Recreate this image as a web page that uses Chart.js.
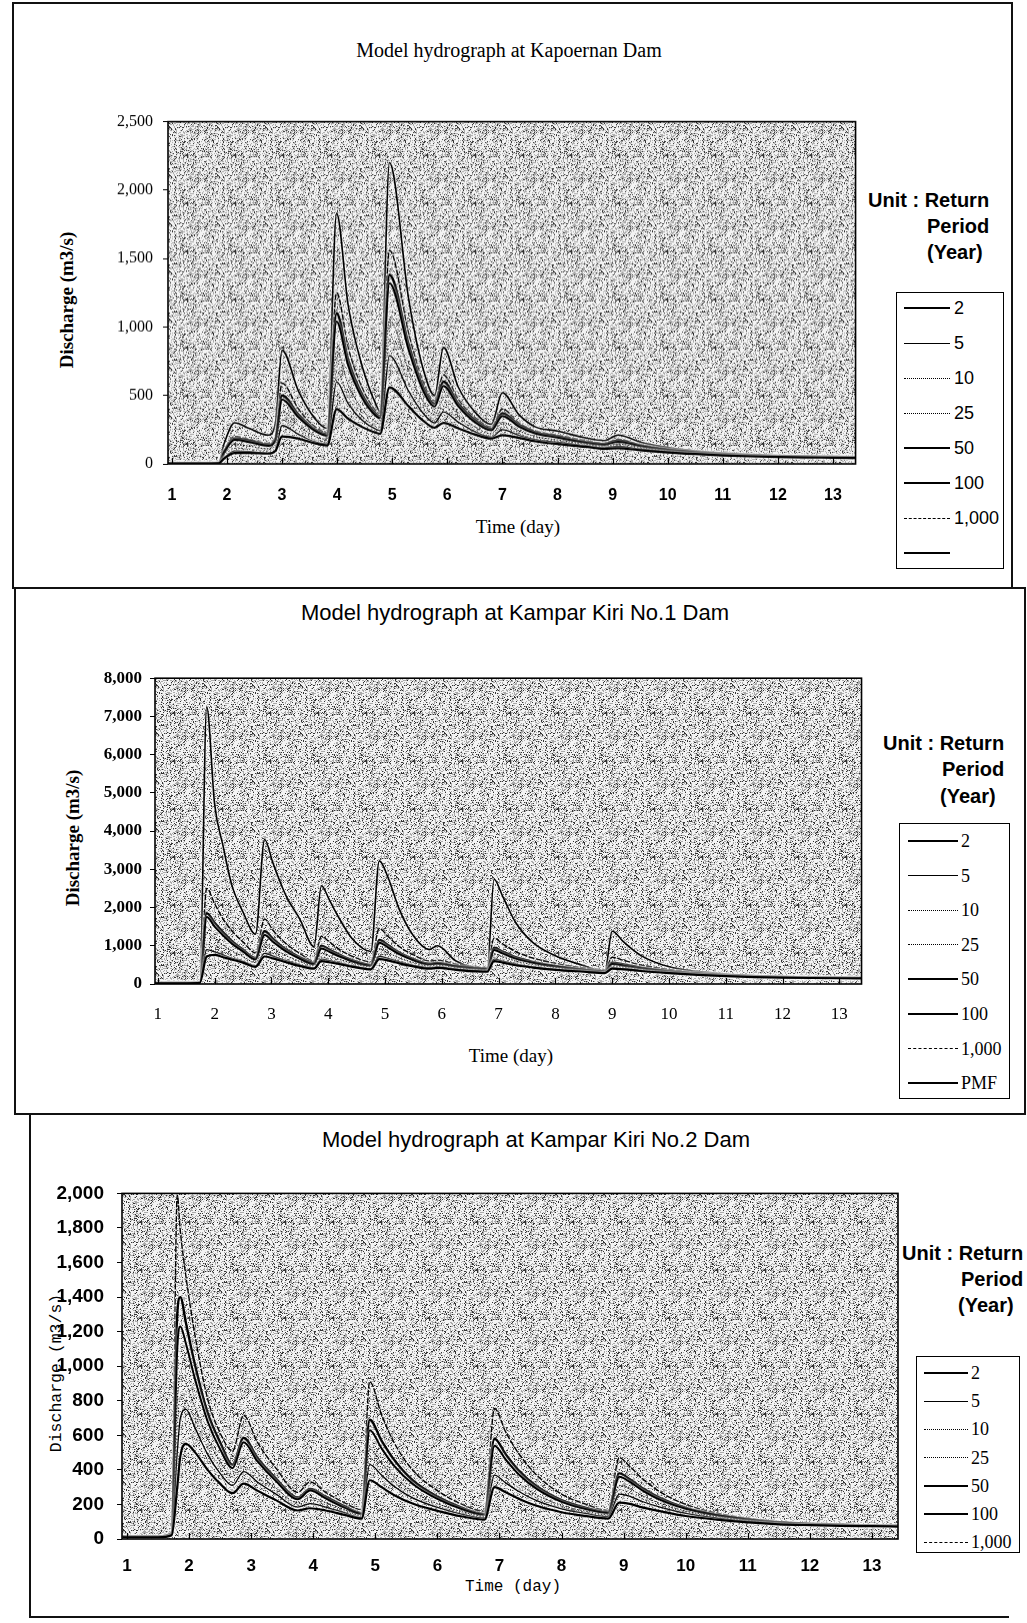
<!DOCTYPE html>
<html><head><meta charset="utf-8">
<script src="https://cdn.jsdelivr.net/npm/chart.js@4/dist/chart.umd.min.js"></script>
<style>
html,body{margin:0;padding:0;background:#fff;}
body{width:1027px;height:1623px;position:relative;overflow:hidden;color:#000;font-family:'Liberation Sans',Arial,sans-serif;}
.hl{position:absolute;background:#111;}
.t{position:absolute;white-space:nowrap;line-height:1;transform:translate(-50%,-50%);}
.tl{position:absolute;white-space:nowrap;line-height:1;transform:translateY(-50%);}
.vt{position:absolute;white-space:nowrap;line-height:1;transform:translate(-50%,-50%) rotate(-90deg);}
.box{position:absolute;border:1.5px solid #000;box-sizing:border-box;}
.cv{position:absolute;}
.serif{font-family:'Liberation Serif','Times New Roman',serif;}
.sans{font-family:'Liberation Sans',Arial,sans-serif;}
.mono{font-family:'Liberation Mono','Courier New',monospace;}
.unit{font-family:'Liberation Sans',Arial,sans-serif;font-weight:bold;font-size:20px;}
</style></head><body>

<!-- panel frames -->
<div class="hl" style="left:12px;top:2px;width:1001px;height:2px"></div>
<div class="hl" style="left:12px;top:2px;width:2px;height:587px"></div>
<div class="hl" style="left:1011px;top:2px;width:2px;height:587px"></div>
<div class="hl" style="left:12px;top:587px;width:1014px;height:2px"></div>
<div class="hl" style="left:14px;top:588px;width:2px;height:527px"></div>
<div class="hl" style="left:1024px;top:588px;width:2px;height:527px"></div>
<div class="hl" style="left:14px;top:1113px;width:1012px;height:2px"></div>
<div class="hl" style="left:29px;top:1114px;width:2px;height:504px"></div>
<div class="hl" style="left:29px;top:1616px;width:980px;height:2px"></div>

<!-- chart 1 texts -->
<div class="t serif" style="left:509px;top:50px;font-size:20px">Model hydrograph at Kapoernan Dam</div>
<div class="vt serif" style="left:66px;top:300px;font-size:19px;font-weight:bold">Discharge (m3/s)</div>
<div class="t serif" style="left:518px;top:526px;font-size:19px">Time (day)</div>
<div class="tl unit" style="left:868px;top:200px">Unit : Return</div>
<div class="tl unit" style="left:927px;top:226px">Period</div>
<div class="tl unit" style="left:927px;top:252px">(Year)</div>
<div class="box" style="left:896px;top:292px;width:108px;height:277px"></div>

<!-- chart 2 texts -->
<div class="t sans" style="left:515px;top:613px;font-size:22px">Model hydrograph at Kampar Kiri No.1 Dam</div>
<div class="vt serif" style="left:72px;top:838px;font-size:19px;font-weight:bold">Discharge (m3/s)</div>
<div class="t serif" style="left:511px;top:1055px;font-size:19px">Time (day)</div>
<div class="tl unit" style="left:883px;top:743px">Unit : Return</div>
<div class="tl unit" style="left:942px;top:769px">Period</div>
<div class="tl unit" style="left:940px;top:796px">(Year)</div>
<div class="box" style="left:899px;top:823px;width:111px;height:276px"></div>

<!-- chart 3 texts -->
<div class="t sans" style="left:536px;top:1140px;font-size:22px">Model hydrograph at Kampar Kiri No.2 Dam</div>
<div class="vt mono" style="left:57px;top:1373px;font-size:16.5px">Discharge (m3/s)</div>
<div class="t mono" style="left:513px;top:1587px;font-size:16px">Time (day)</div>
<div class="tl unit" style="left:902px;top:1253px">Unit : Return</div>
<div class="tl unit" style="left:961px;top:1279px">Period</div>
<div class="tl unit" style="left:958px;top:1305px">(Year)</div>
<div class="box" style="left:916px;top:1356px;width:104px;height:197px"></div>

<canvas id="c1" class="cv"></canvas>
<canvas id="c2" class="cv"></canvas>
<canvas id="c3" class="cv"></canvas>

<script>
// ---------------- DATA ----------------
const xTicks = [1,2,3,4,5,6,7,8,9,10,11,12,13];

// Kapoernan Dam
const time1 = [0.93,1.5,1.85,1.95,2.14,2.4,2.75,2.88,3.0,3.3,3.6,3.82,3.99,4.2,4.45,4.72,4.78,4.95,5.3,5.55,5.77,5.93,6.2,6.5,6.8,7.0,7.3,7.6,8.0,8.5,8.85,9.1,9.5,10.0,10.5,11.0,11.5,12.0,12.5,13.0,13.42];
const k1_2    = [3,3,5,40,80,80,75,95,200,185,150,135,400,330,270,225,220,560,420,320,265,300,260,215,185,210,190,165,145,125,110,115,100,84,72,62,55,50,47,45,43];
const k1_5    = [3,3,5,45,95,90,78,95,280,215,160,145,600,440,320,250,245,790,530,375,300,380,305,235,195,250,208,177,158,132,118,128,108,88,74,64,57,52,49,46,44];
const k1_10   = [4,4,6,55,115,108,92,115,320,240,175,160,680,490,350,270,260,900,590,410,320,420,330,250,205,270,220,185,165,138,124,135,114,92,77,66,58,53,50,47,45];
const k1_25   = [4,4,6,70,140,130,110,140,380,280,200,180,820,580,400,300,290,1050,680,460,360,470,360,270,220,300,240,200,175,145,130,145,120,96,80,68,60,55,51,48,46];
const k1_50   = [5,5,8,85,175,160,132,170,470,340,240,205,1040,720,485,345,335,1320,830,545,420,570,420,305,245,350,272,222,192,155,140,162,130,102,85,71,63,57,53,50,48];
const k1_100  = [5,5,8,90,185,170,140,180,500,360,250,215,1100,760,510,360,350,1380,870,570,440,600,440,320,255,370,285,230,200,160,145,170,135,105,87,73,64,58,54,51,49];
const k1_1000 = [5,5,8,100,200,180,150,200,590,400,270,230,1250,850,560,380,370,1560,950,610,460,650,470,340,270,400,300,240,210,170,150,180,140,110,90,75,66,60,55,52,50];
const k1_pmf  = [5,5,10,150,300,260,210,300,830,530,330,260,1830,1160,720,420,380,2200,1200,710,500,850,560,380,290,520,360,270,240,190,170,210,160,120,95,80,70,62,58,55,52];
const yTicks1 = [0,500,1000,1500,2000,2500];
const legend1 = ['2','5','10','25','50','100','1,000',''];

// Kampar Kiri No.1 Dam
const time2 = [0.94,1.5,1.74,1.86,2.0,2.15,2.3,2.5,2.72,2.88,3.03,3.26,3.5,3.75,3.88,4.02,4.2,4.43,4.75,4.9,5.05,5.25,5.5,5.78,5.92,6.25,6.8,6.92,7.07,7.3,7.6,8.0,8.5,8.87,9.0,9.2,9.5,10.0,10.5,11.0,11.5,12.0,12.5,13.0,13.4];
const k2_2    = [20,20,30,720,760,700,640,560,450,720,670,570,470,400,600,570,520,450,380,650,620,540,460,400,420,370,320,600,560,490,430,370,320,285,400,385,340,285,240,205,182,167,157,150,146];
const k2_5    = [20,20,32,900,840,760,680,590,480,800,730,610,500,420,650,610,550,475,400,720,670,580,490,425,445,390,340,650,600,520,450,385,330,295,420,400,350,292,246,210,186,170,160,152,148];
const k2_10   = [25,25,35,1050,950,840,730,620,500,880,790,650,530,440,700,650,580,500,420,780,720,610,510,440,460,405,350,700,640,550,470,400,340,305,440,415,360,300,252,215,190,174,162,155,150];
const k2_25   = [25,25,38,1350,1200,1020,870,720,560,1050,920,740,590,480,800,730,640,540,450,900,820,680,560,470,490,430,370,780,710,600,510,430,355,320,470,440,380,315,262,222,195,178,166,158,154];
const k2_50   = [30,30,40,1750,1500,1270,1060,850,640,1280,1100,850,660,520,930,840,720,590,480,1080,960,780,620,510,530,455,390,890,800,665,555,455,370,330,520,480,410,330,272,230,200,182,170,162,158];
const k2_100  = [30,30,42,1850,1600,1350,1130,900,680,1380,1180,900,700,550,1000,900,760,620,500,1150,1020,820,650,530,550,470,400,950,850,700,580,470,380,340,560,510,430,340,280,235,205,185,172,165,160];
const k2_1000 = [30,30,45,2500,2100,1700,1400,1100,820,1700,1400,1050,800,600,1250,1100,900,720,580,1450,1250,980,760,600,620,520,430,1200,1050,850,680,540,420,370,700,620,500,380,300,250,215,195,180,170,165];
const k2_pmf  = [30,30,50,7250,4700,3600,2600,1880,1300,3780,3150,2300,1700,980,2570,2200,1700,1170,850,3220,2800,1960,1260,900,1000,600,380,2740,2300,1610,1090,740,480,330,1380,1100,750,450,330,260,220,200,185,175,170];
const yTicks2 = [0,1000,2000,3000,4000,5000,6000,7000,8000];
const legend2 = ['2','5','10','25','50','100','1,000','PMF'];

// Kampar Kiri No.2 Dam
const time3 = [0.93,1.5,1.72,1.81,1.86,1.95,2.1,2.3,2.5,2.7,2.88,3.1,3.4,3.75,3.95,4.2,4.5,4.78,4.91,5.1,5.3,5.6,6.0,6.4,6.76,6.92,7.1,7.3,7.6,8.0,8.4,8.75,8.93,9.1,9.3,9.6,10.0,10.5,11.0,11.5,12.0,12.5,13.0,13.43];
const k3_2    = [10,10,22,300,480,550,500,400,320,265,320,280,225,165,178,165,140,118,340,300,255,205,163,130,112,300,270,235,192,155,132,118,210,203,183,160,133,112,96,85,80,76,74,72];
const k3_5    = [12,12,25,500,700,750,640,490,380,310,390,330,260,185,205,185,152,125,430,370,305,238,183,143,122,370,325,278,222,175,147,130,260,247,217,183,148,121,102,88,82,78,75,73];
const k3_10   = [12,12,28,650,820,800,690,530,410,330,420,355,275,198,225,198,162,130,470,400,330,255,193,150,127,410,355,300,238,185,153,135,285,268,233,195,156,126,105,90,83,79,76,74];
const k3_25   = [12,12,30,800,950,900,760,580,450,360,470,390,295,210,240,210,170,135,520,440,360,275,205,158,132,450,390,325,255,195,160,140,310,290,250,205,162,130,108,92,85,80,77,75];
const k3_50   = [15,15,33,1100,1230,1130,920,680,520,410,560,450,335,230,280,235,182,145,630,525,425,320,232,172,140,540,460,378,290,215,172,150,360,330,282,225,175,137,113,95,87,82,78,76];
const k3_100  = [15,15,35,1300,1400,1250,1000,730,560,430,585,470,350,240,290,245,190,150,690,570,460,340,245,180,145,580,490,400,305,225,180,155,380,345,295,235,180,140,115,97,88,83,79,77];
const k3_1000 = [15,15,40,1990,1780,1520,1170,810,614,510,715,560,410,270,330,270,210,170,910,720,560,400,280,200,160,755,620,500,370,260,200,165,470,420,350,270,200,150,120,100,90,85,80,78];
const yTicks3 = [0,200,400,600,800,1000,1200,1400,1600,1800,2000];
const legend3 = ['2','5','10','25','50','100','1,000'];

// ---------------- STYLES ----------------
const lineStyles = {
  '2':   {w:2.2, dash:[],      css:'solid'},
  '5':   {w:1.3, dash:[],      css:'solid'},
  '10':  {w:1,   dash:[1,2.5], css:'dotted'},
  '25':  {w:1,   dash:[1.5,1.5], css:'dotted'},
  '50':  {w:2.0, dash:[],      css:'solid'},
  '100': {w:2.4, dash:[],      css:'solid'},
  '1000':{w:1.4, dash:[6,1.5], css:'dashed'},
  'pmf': {w:1.6, dash:[],      css:'solid'}
};
const keys8 = ['2','5','10','25','50','100','1000','pmf'];

// stipple texture (deterministic hash, not data)
function hash(x,y){
  let n = Math.imul(x,374761393) + Math.imul(y,668265263);
  n = Math.imul(n ^ (n >>> 13), 1274126177);
  n = n ^ (n >>> 16);
  return (n >>> 0) / 4294967296;
}
function makePattern(ctx){
  const S = 48;
  const c = document.createElement('canvas'); c.width = S; c.height = S;
  const g = c.getContext('2d');
  g.fillStyle = '#f3f3f3'; g.fillRect(0,0,S,S);
  for(let y=0;y<S;y++) for(let x=0;x<S;x++){
    const v = hash(x,y);
    if(v < 0.13){ g.fillStyle = '#333'; g.fillRect(x,y,1,1); }
    else if(v < 0.39){ g.fillStyle = '#aaa'; g.fillRect(x,y,1,1); }
  }
  return ctx.createPattern(c,'repeat');
}

const framePlugin = {
  id:'frame',
  beforeDatasetsDraw(chart){
    const {ctx, chartArea:a} = chart;
    if(!chart.$pat) chart.$pat = makePattern(ctx);
    ctx.save(); ctx.fillStyle = chart.$pat; ctx.fillRect(a.left,a.top,a.width,a.height); ctx.restore();
  },
  afterDatasetsDraw(chart){
    const {ctx, chartArea:a} = chart;
    const xs = chart.scales.x;
    ctx.save();
    ctx.strokeStyle = '#000'; ctx.lineWidth = 1.6;
    ctx.strokeRect(a.left, a.top, a.width, a.height);
    ctx.lineWidth = 1.2;
    xs.ticks.forEach(t=>{
      const px = Math.round(xs.getPixelForValue(t.value)) + 0.5;
      ctx.beginPath(); ctx.moveTo(px, a.bottom); ctx.lineTo(px, a.bottom - 6); ctx.stroke();
    });
    ctx.restore();
  }
};
const haloPlugin = {
  id:'halo',
  beforeDatasetDraw(chart){ const c = chart.ctx; c.save(); c.shadowColor = 'rgba(255,255,255,0.95)'; c.shadowBlur = 3; },
  afterDatasetDraw(chart){ chart.ctx.restore(); }
};

function buildConfig(lay, times, series, keys, yTicks){
  const datasets = series.map((s,i)=>{
    const st = lineStyles[keys[i]];
    return {
      data: times.map((x,j)=>({x:x, y:s[j]})),
      borderColor:'#000', borderWidth: st.w, borderDash: st.dash,
      pointRadius:0, fill:false, cubicInterpolationMode:'monotone'
    };
  });
  return {
    type:'line',
    data:{datasets},
    options:{
      responsive:false, animation:false, devicePixelRatio:1, locale:'en-US',
      layout:{padding:{top:4,right:4,left:0,bottom:0}},
      plugins:{legend:{display:false}, tooltip:{enabled:false}, title:{display:false}},
      scales:{
        x:{type:'linear', min:lay.xmin, max:lay.xmax,
           afterBuildTicks:s=>{ s.ticks = xTicks.map(v=>({value:v})); },
           afterFit:s=>{ s.height = lay.xh; },
           grid:{display:false, drawTicks:false}, border:{display:false},
           ticks:{padding:lay.xpad, color:'#000', font:lay.xfont, autoSkip:false, maxRotation:0, callback:v=>String(v)}},
        y:{type:'linear', min:0, max:yTicks[yTicks.length-1],
           afterBuildTicks:s=>{ s.ticks = yTicks.map(v=>({value:v})); },
           afterFit:s=>{ s.width = lay.yw; },
           grid:{drawOnChartArea:false, drawTicks:true, tickLength:5, color:'#000', lineWidth:1}, border:{display:false},
           ticks:{padding:lay.ypad, color:'#000', font:lay.yfont, autoSkip:false, callback:v=>Number(v).toLocaleString('en-US')}}
      }
    },
    plugins:[framePlugin, haloPlugin]
  };
}

function sizeCanvas(cv, w, h, left, top){
  cv.width = w; cv.height = h;
  cv.style.width = w + 'px'; cv.style.height = h + 'px';
  cv.style.left = left + 'px'; cv.style.top = top + 'px';
}

function makeChart(id, lay, times, series, keys, yTicks){
  const cv = document.getElementById(id);
  // first pass: measure library paddings around the plot area
  let w = lay.R - lay.L + lay.yw + 40, h = lay.B - lay.T + lay.xh + 40;
  sizeCanvas(cv, w, h, 0, 0);
  let ch = new Chart(cv, buildConfig(lay, times, series, keys, yTicks));
  const a = ch.chartArea;
  const padL = a.left, padT = a.top, padR = w - a.right, padB = h - a.bottom;
  ch.destroy();
  // second pass: place plot area exactly
  w = padL + (lay.R - lay.L) + padR;
  h = padT + (lay.B - lay.T) + padB;
  sizeCanvas(cv, w, h, lay.L - padL, lay.T - padT);
  return new Chart(cv, buildConfig(lay, times, series, keys, yTicks));
}

function buildLegend(labels, keys, lay){
  labels.forEach((lab,i)=>{
    const y = lay.y0 + i*lay.dy;
    const st = lineStyles[keys[i]];
    const bw = Math.max(1, Math.round(st.w));
    const ln = document.createElement('div');
    ln.style.cssText = 'position:absolute;left:'+lay.x1+'px;top:'+(y-bw/2)+'px;width:'+lay.len+'px;height:0;border-top:'+bw+'px '+st.css+' #000;';
    document.body.appendChild(ln);
    if(lab){
      const t = document.createElement('div');
      t.className = 'tl ' + lay.cls;
      t.style.left = lay.tx + 'px'; t.style.top = y + 'px'; t.style.fontSize = lay.fs + 'px';
      t.textContent = lab;
      document.body.appendChild(t);
    }
  });
}

makeChart('c1', {L:168,T:122,R:857,B:464,yw:80,xh:50,xmin:0.93,xmax:13.41,ypad:10,xpad:22,
  yfont:{family:"'Liberation Serif', serif", size:16}, xfont:{family:"'Liberation Sans', sans-serif", size:16, weight:'bold'}},
  time1, [k1_2,k1_5,k1_10,k1_25,k1_50,k1_100,k1_1000,k1_pmf], keys8, yTicks1);
makeChart('c2', {L:155,T:678,R:863,B:984,yw:80,xh:50,xmin:0.95,xmax:13.39,ypad:8,xpad:20,
  yfont:{family:"'Liberation Serif', serif", size:17, weight:'bold'}, xfont:{family:"'Liberation Serif', serif", size:17}},
  time2, [k2_2,k2_5,k2_10,k2_25,k2_50,k2_100,k2_1000,k2_pmf], keys8, yTicks2);
makeChart('c3', {L:122,T:1193,R:898,B:1539,yw:80,xh:50,xmin:0.92,xmax:13.42,ypad:13,xpad:17,
  yfont:{family:"'Liberation Sans Narrow', 'Liberation Sans', sans-serif", size:19, weight:'bold'}, xfont:{family:"'Liberation Sans', sans-serif", size:17, weight:'bold'}},
  time3, [k3_2,k3_5,k3_10,k3_25,k3_50,k3_100,k3_1000], keys8.slice(0,7), yTicks3);

buildLegend(legend1, keys8, {y0:308, dy:35, x1:904, len:46, tx:954, fs:18, cls:'sans'});
buildLegend(legend2, keys8, {y0:841, dy:34.6, x1:908, len:50, tx:961, fs:18, cls:'serif'});
buildLegend(legend3, keys8.slice(0,7), {y0:1373, dy:28.2, x1:924, len:44, tx:971, fs:18, cls:'serif'});
</script>
</body></html>
